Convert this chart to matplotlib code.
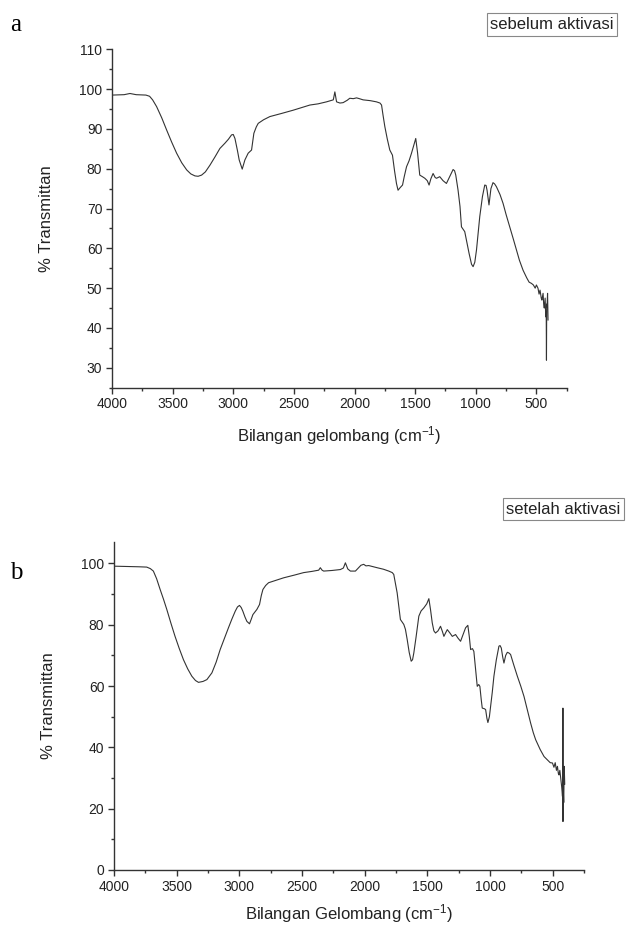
import matplotlib
matplotlib.use("Agg")
import matplotlib.pyplot as plt
from matplotlib.ticker import MultipleLocator

plt.rcParams['font.family'] = ['Liberation Sans', 'DejaVu Sans']
plt.rcParams['mathtext.default'] = 'regular'

# spectrum a: sebelum aktivasi
wn_a = [4000, 3900, 3852, 3800, 3720, 3690, 3665, 3632, 3590, 3549,
        3508, 3467, 3425, 3384, 3350, 3316, 3290, 3261, 3230, 3192,
        3150, 3110, 3069, 3040, 3014, 3000, 2986, 2965, 2951, 2926,
        2904, 2877, 2849, 2830, 2810, 2794, 2750, 2698, 2600, 2506,
        2430, 2368, 2300, 2231, 2175, 2162, 2148, 2120, 2094, 2060,
        2039, 2010, 1983, 1960, 1929, 1870, 1819, 1790, 1777, 1765,
        1750, 1730, 1709, 1687, 1670, 1654, 1641, 1625, 1604, 1590,
        1571, 1550, 1530, 1510, 1495, 1480, 1462, 1440, 1420, 1400,
        1385, 1370, 1352, 1335, 1324, 1297, 1270, 1242, 1215, 1187,
        1175, 1165, 1146, 1130, 1118, 1091, 1070, 1055, 1035, 1022,
        1008, 994, 980, 967, 945, 926, 915, 907, 891, 875,
        858, 845, 830, 800, 775, 750, 720, 690, 665, 640,
        610, 580, 560, 541, 525, 510, 500, 487, 478, 470,
        460, 455, 445, 440, 435, 428, 423, 419, 417, 415,
        412, 408, 404]
t_a = [98.5, 98.6, 98.9, 98.6, 98.5, 98.2, 97.3, 95.6, 92.8, 89.7,
       86.7, 83.9, 81.5, 79.7, 78.7, 78.2, 78.1, 78.4, 79.2, 80.9,
       83.0, 85.1, 86.4, 87.4, 88.5, 88.6, 87.6, 84.5, 82.2, 79.9,
       82.2, 83.9, 84.7, 88.9, 90.5, 91.4, 92.3, 93.1, 93.9, 94.7,
       95.4, 96.0, 96.3, 96.8, 97.3, 99.3, 96.8, 96.5, 96.6, 97.2,
       97.7, 97.6, 97.8, 97.6, 97.3, 97.1, 96.8, 96.5, 96.0, 93.5,
       90.6, 87.5, 84.7, 83.4, 79.5, 76.3, 74.6, 75.2, 75.9, 78.0,
       80.5, 82.0, 83.9, 86.0, 87.6, 84.0, 78.4, 78.0, 77.6, 77.0,
       75.9, 77.5, 78.8, 77.8, 77.6, 78.0, 77.0, 76.3, 78.0, 79.8,
       79.5, 78.4, 74.6, 70.5, 65.4, 64.2, 61.0, 58.7, 56.0, 55.4,
       56.5, 59.6, 64.0, 68.0, 73.0, 75.9, 75.8, 74.6, 70.9, 75.0,
       76.5, 76.2, 75.5, 73.5, 71.3, 68.5, 65.4, 62.3, 59.6, 57.0,
       54.5, 52.6, 51.5, 51.2, 50.8, 50.0, 50.8, 50.0, 48.5, 49.5,
       47.5, 47.0, 48.7, 46.0, 45.0, 47.5, 42.8, 44.0, 31.9, 46.0,
       45.3, 48.7, 42.0]

# spectrum b: setelah aktivasi
wn_b = [4000, 3900, 3800, 3739, 3710, 3686, 3660, 3632, 3605, 3579,
        3546, 3513, 3480, 3446, 3412, 3379, 3350, 3326, 3290, 3259,
        3219, 3185, 3153, 3120, 3087, 3060, 3033, 3015, 2999, 2985,
        2972, 2955, 2940, 2919, 2905, 2892, 2860, 2839, 2825, 2812,
        2790, 2767, 2700, 2647, 2560, 2487, 2420, 2367, 2354, 2340,
        2327, 2260, 2194, 2170, 2154, 2135, 2114, 2074, 2048, 2030,
        2008, 1990, 1968, 1940, 1901, 1850, 1808, 1780, 1768, 1755,
        1741, 1728, 1715, 1700, 1688, 1675, 1661, 1645, 1629, 1618,
        1608, 1590, 1568, 1550, 1528, 1505, 1488, 1475, 1461, 1448,
        1435, 1415, 1395, 1380, 1368, 1355, 1341, 1320, 1301, 1275,
        1255, 1235, 1215, 1195, 1177, 1165, 1155, 1140, 1129, 1115,
        1102, 1090, 1081, 1070, 1062, 1045, 1035, 1025, 1017, 1005,
        995, 982, 969, 950, 929, 920, 910, 899, 889, 875,
        862, 850, 836, 810, 782, 755, 729, 700, 676, 655,
        636, 600, 569, 540, 520, 502, 490, 480, 470, 462,
        455, 450, 443, 436, 428, 422, 419, 418.5, 418, 417,
        412, 408, 404]
t_b = [99.1, 99.0, 98.9, 98.8, 98.3, 97.5, 95.0, 91.5, 88.3, 85.0,
       80.5, 76.2, 72.3, 68.6, 65.6, 63.2, 61.8, 61.2, 61.5, 62.1,
       64.3, 67.8, 71.9, 75.5, 79.0, 81.8, 84.4, 85.8, 86.3, 85.6,
       84.4, 82.5, 81.1, 80.3, 81.8, 83.3, 85.0, 86.6, 89.5, 91.5,
       92.8, 93.7, 94.6, 95.3, 96.2, 97.0, 97.4, 97.8, 98.6, 97.8,
       97.5, 97.7, 98.0, 98.5, 100.2, 98.2, 97.5, 97.5, 98.6, 99.4,
       99.7, 99.2, 99.3, 99.0, 98.6, 98.1, 97.5, 97.0, 96.4, 93.5,
       90.4, 86.0, 81.7, 80.8, 80.1, 78.5, 75.2, 71.0, 68.1, 68.6,
       70.8, 76.0, 82.8, 84.5, 85.5, 86.8, 88.5, 85.0, 80.6, 78.0,
       77.3, 78.0, 79.5, 77.8, 76.2, 77.3, 78.4, 77.3, 76.2, 76.8,
       75.6, 74.6, 76.8, 79.0, 79.8, 76.0, 71.9, 72.2, 71.3, 65.5,
       59.9, 60.5, 59.9, 55.5, 52.8, 52.6, 52.3, 49.5, 48.1, 50.0,
       53.4, 58.0, 63.2, 68.5, 73.0, 73.2, 72.4, 69.5, 67.5, 70.0,
       71.0, 70.8, 70.3, 66.8, 63.2, 60.0, 56.6, 51.8, 47.9, 44.8,
       42.5, 39.3, 37.0, 35.8, 35.0, 34.9, 33.5, 35.0, 32.5, 33.8,
       31.5, 31.0, 32.5, 30.0, 27.0, 24.0, 30.0, 52.8, 15.8, 28.0,
       22.0, 33.8, 28.0]

line_col = '#333333'
ax_col = '#333333'


def style_axes(ax):
    for s in ['top', 'right']:
        ax.spines[s].set_visible(False)
    for s in ['left', 'bottom']:
        ax.spines[s].set_color(ax_col)
        ax.spines[s].set_linewidth(1.0)
    ax.tick_params(which='major', direction='out', length=4, width=1,
                   color=ax_col, labelsize=10, labelcolor='#222222', pad=3)
    ax.tick_params(which='minor', direction='out', length=2.2, width=1,
                   color=ax_col)
    ax.xaxis.set_major_locator(MultipleLocator(500))
    ax.xaxis.set_minor_locator(MultipleLocator(250))


fig = plt.figure(figsize=(6.32, 9.25), dpi=100)

# panel a
ax1 = fig.add_axes([0.1772, 0.5809, 0.7195, 0.3658])
ax1.plot(wn_a, t_a, color=line_col, lw=0.8)
ax1.set_xlim(4000, 250)
ax1.set_ylim(25, 110)
style_axes(ax1)
ax1.yaxis.set_major_locator(MultipleLocator(10))
ax1.yaxis.set_minor_locator(MultipleLocator(5))
ax1.set_xlabel('Bilangan gelombang (cm$^{-1}$)', fontsize=12, labelpad=9,
               color='#222222')
ax1.set_ylabel('% Transmittan', fontsize=12, labelpad=18, color='#222222')

# panel b
ax2 = fig.add_axes([0.1804, 0.0595, 0.7437, 0.3546])
ax2.plot(wn_b, t_b, color=line_col, lw=0.8)
ax2.set_xlim(4000, 250)
ax2.set_ylim(0, 107)
style_axes(ax2)
ax2.yaxis.set_major_locator(MultipleLocator(20))
ax2.yaxis.set_minor_locator(MultipleLocator(10))
ax2.set_xlabel('Bilangan Gelombang (cm$^{-1}$)', fontsize=12, labelpad=6,
               color='#222222')
ax2.set_ylabel('% Transmittan', fontsize=12, labelpad=18, color='#222222')

# panel letters
fig.text(16 / 632, 1 - 25 / 925, 'a', fontsize=18, ha='center', va='center',
         family=['Liberation Serif', 'DejaVu Serif'])
fig.text(16 / 632, 1 - 573 / 925, 'b', fontsize=18, ha='center', va='center',
         family=['Liberation Serif', 'DejaVu Serif'])

# boxed captions
box = dict(boxstyle='square,pad=0.22', facecolor='white', edgecolor='#888888',
           linewidth=0.8)
fig.text(552 / 632, 1 - 24.5 / 925, 'sebelum aktivasi', fontsize=12,
         ha='center', va='center', color='#222222', bbox=box)
fig.text(563.5 / 632, 1 - 509 / 925, 'setelah aktivasi', fontsize=12,
         ha='center', va='center', color='#222222', bbox=box)

fig.savefig('out.png', dpi=100)
